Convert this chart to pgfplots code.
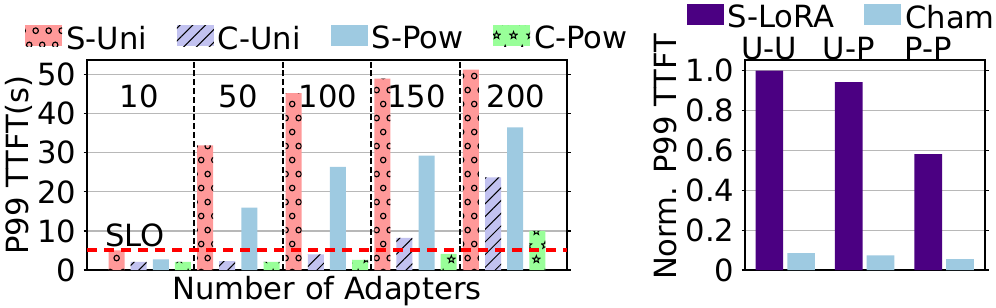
\documentclass[border=0pt]{standalone}
\usepackage{fontspec}
\setmainfont{DejaVu Sans}
\usepackage{pgfplots}
\pgfplotsset{compat=1.18}
\usetikzlibrary{patterns,patterns.meta}

\definecolor{suni}{HTML}{FF9999}
\definecolor{cuni}{HTML}{C2C2F0}
\definecolor{spow}{HTML}{9ECAE1}
\definecolor{cpow}{HTML}{99FF99}
\definecolor{slora}{HTML}{4B0082}

\pgfdeclarepatternformonly{hcircles}{\pgfqpoint{0pt}{0pt}}{\pgfqpoint{6.7pt}{14.2pt}}{\pgfqpoint{6.7pt}{14.2pt}}{%
  \pgfsetlinewidth{0.6pt}%
  \pgfpathcircle{\pgfqpoint{1.675pt}{3.55pt}}{1.4pt}%
  \pgfpathcircle{\pgfqpoint{5.025pt}{10.65pt}}{1.4pt}%
  \pgfusepath{stroke}%
}

\newcommand\starpath{%
  \pgfpathmoveto{\pgfpointpolar{90}{1.9pt}}%
  \pgfpathlineto{\pgfpointpolar{126}{0.8pt}}%
  \pgfpathlineto{\pgfpointpolar{162}{1.9pt}}%
  \pgfpathlineto{\pgfpointpolar{198}{0.8pt}}%
  \pgfpathlineto{\pgfpointpolar{234}{1.9pt}}%
  \pgfpathlineto{\pgfpointpolar{270}{0.8pt}}%
  \pgfpathlineto{\pgfpointpolar{306}{1.9pt}}%
  \pgfpathlineto{\pgfpointpolar{342}{0.8pt}}%
  \pgfpathlineto{\pgfpointpolar{18}{1.9pt}}%
  \pgfpathlineto{\pgfpointpolar{54}{0.8pt}}%
  \pgfpathclose}

\pgfdeclarepatternformonly{hstars}{\pgfqpoint{0pt}{0pt}}{\pgfqpoint{8.35pt}{14pt}}{\pgfqpoint{8.35pt}{14pt}}{%
  \pgfsetlinewidth{0.5pt}%
  \pgftransformshift{\pgfqpoint{2.09pt}{3.5pt}}\starpath
  \pgftransformshift{\pgfqpoint{4.175pt}{7pt}}\starpath
  \pgfusepath{stroke}%
}

\newcommand\chartfont{\fontsize{15.3}{18}\selectfont}

\begin{document}
\begin{tikzpicture}[font=\chartfont]
\pgfplotsset{
  common/.style={
    scale only axis, height=105pt, ymin=0,
    axis line style={line width=0.6pt},
    tick align=outside, major tick length=1.75pt,
    tick style={black, line width=0.6pt},
    ymajorgrids, grid style={line width=0.6pt, color=black!28},
    xtick style={draw=none},
    legend cell align=left,
    legend image code/.code={\fill[##1] (0pt,-3.5pt) rectangle (18.5pt,7pt);},
  }
}
\begin{axis}[common, at={(43.5pt,18.5pt)}, anchor=south west, width=240pt,
  xmin=-1.332, xmax=20.34, ymax=53.76,
  xtick=\empty,
  ytick={0,10,20,30,40,50}, yticklabels={0,10,20,30,40,50},
  xlabel={Number of Adapters},
  xlabel style={at={(axis description cs:0.5,-0.1395)}, anchor=base},
  ylabel={P99 TTFT(s)},
  ylabel style={at={(axis description cs:-0.1217,0.5)}, anchor=base},
  legend style={at={(axis description cs:0.503,1.016)}, anchor=south, draw=none, fill=none,
    font=\chartfont, inner sep=0pt,
    /tikz/every even column/.append style={column sep=13pt}},
  legend columns=4]
\addplot[ybar, bar width=8pt, bar shift=0pt, draw=none, fill=suni,
  postaction={pattern=hcircles, pattern color=black}]
  coordinates {(0,5.0) (4,31.9) (8,45.3) (12,49.0) (16,51.3)};
\addlegendentry{S-Uni}
\addplot[ybar, bar width=8pt, bar shift=0pt, draw=none, fill=cuni,
  postaction={pattern={Lines[angle=45, distance=4.5pt, line width=0.5pt]}, pattern color=black}]
  coordinates {(1,2.1) (5,2.3) (9,4.0) (13,8.2) (17,23.7)};
\addlegendentry{C-Uni}
\addplot[ybar, bar width=8pt, bar shift=0pt, draw=none, fill=spow]
  coordinates {(2,2.7) (6,16.0) (10,26.4) (14,29.3) (18,36.5)};
\addlegendentry{S-Pow}
\addplot[ybar, bar width=8pt, bar shift=0pt, draw=none, fill=cpow,
  postaction={pattern=hstars, pattern color=black}]
  coordinates {(3,2.1) (7,2.1) (11,2.6) (15,4.1) (19,10.0)};
\addlegendentry{C-Pow}
\addplot[black, line width=1pt, dash pattern=on 3pt off 1.4pt, forget plot] coordinates {(3.5,0) (3.5,53.76)};
\addplot[black, line width=1pt, dash pattern=on 3pt off 1.4pt, forget plot] coordinates {(7.5,0) (7.5,53.76)};
\addplot[black, line width=1pt, dash pattern=on 3pt off 1.4pt, forget plot] coordinates {(11.5,0) (11.5,53.76)};
\addplot[black, line width=1pt, dash pattern=on 3pt off 1.4pt, forget plot] coordinates {(15.5,0) (15.5,53.76)};
\addplot[red, line width=2pt, dash pattern=on 5pt off 3.5pt, forget plot] coordinates {(-1.332,5) (20.34,5)};
\node[anchor=base] at (axis cs:1.02,41.5) {10};
\node[anchor=base] at (axis cs:5.5,41.5) {50};
\node[anchor=base] at (axis cs:9.55,41.5) {100};
\node[anchor=base] at (axis cs:13.55,41.5) {150};
\node[anchor=base] at (axis cs:18.03,41.5) {200};
\node[anchor=base] at (axis cs:0.84,5.9) {SLO};
\end{axis}

\begin{axis}[common, at={(372.5pt,18.5pt)}, anchor=south west, width=120pt,
  xmin=-0.507, xmax=2.516, ymax=1.0537,
  xtick={-0.2,0.8,1.8}, xticklabels={U-U,U-P,P-P}, xticklabel pos=right,
  x tick label style={anchor=base, yshift=-1.5pt},
  ytick={0,0.2,0.4,0.6,0.8,1}, yticklabels={0,0.2,0.4,0.6,0.8,1.0},
  ylabel={Norm. P99 TTFT},
  ylabel style={at={(axis description cs:-0.2875,0.538)}, anchor=base},
  legend style={at={(axis description cs:-0.245,1.20)}, anchor=west, draw=none, fill=none,
    font=\chartfont, inner sep=0pt,
    /tikz/every even column/.append style={column sep=13pt}},
  legend columns=2]
\addplot[ybar, bar width=13.85pt, bar shift=0pt, draw=none, fill=slora]
  coordinates {(-0.2,1.0) (0.8,0.943) (1.8,0.582)};
\addlegendentry{S-LoRA}
\addplot[ybar, bar width=13.85pt, bar shift=0pt, draw=none, fill=spow]
  coordinates {(0.2,0.085) (1.2,0.074) (2.2,0.055)};
\addlegendentry{Cham}
\end{axis}
\pgfresetboundingbox
\path[use as bounding box] (0,0) rectangle (498pt,153.5pt);
\end{tikzpicture}
\end{document}
